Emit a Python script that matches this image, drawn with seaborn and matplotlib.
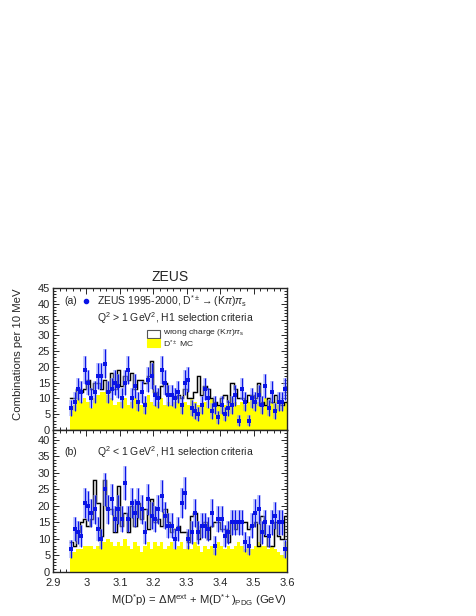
import numpy as np
import pandas as pd
import matplotlib
matplotlib.use("Agg")
import matplotlib.pyplot as plt
from matplotlib.ticker import MultipleLocator
import seaborn as sns

sns.set_style("ticks")
plt.rcParams['font.family'] = ['Liberation Sans', 'DejaVu Sans']
plt.rcParams['mathtext.fontset'] = 'custom'
plt.rcParams['mathtext.rm'] = 'Liberation Sans'
plt.rcParams['mathtext.it'] = 'Liberation Sans:italic'

# bins: 10 MeV from 2.95 to 3.60 GeV
bin_edges = [round(2.95 + 0.01 * i, 3) for i in range(66)]
bin_centers = [round(2.955 + 0.01 * i, 4) for i in range(65)]

# panel (a): Q^2 > 1 GeV^2
data_a = [7, 9, 13, 12, 19, 15, 10, 12, 17, 17, 21, 12, 13, 15, 14, 10, 15, 19, 10, 14,
          9, 12, 8, 16, 17, 11, 10, 19, 15, 11, 11, 10, 12, 8, 15, 16, 7, 6, 5, 8,
          13, 10, 6, 8, 4, 8, 5, 7, 8, 11, 3, 13, 9, 3, 10, 9, 11, 8, 14, 7,
          12, 6, 9, 9, 13]
wc_a = [10, 10, 13, 12, 13, 16, 13, 15, 15, 13, 16, 12, 18, 13, 19, 14, 17, 16, 18, 13,
        16, 16, 15, 17, 22, 12, 10, 14, 15, 11, 11, 10, 11, 10, 13, 10, 10, 12, 17, 11,
        14, 13, 10, 9, 8, 10, 11, 9, 15, 13, 10, 10, 9, 11, 11, 10, 15, 9, 8, 10,
        9, 11, 9, 8, 9]
mc_a = [7, 8, 10, 9, 10, 9, 7, 10, 11, 12, 12, 11, 10, 8, 9, 9, 10, 8, 9, 10,
        9, 8, 9, 11, 9, 8, 9, 10, 8, 9, 8, 9, 10, 8, 9, 8, 10, 9, 8, 8,
        9, 7, 10, 9, 8, 9, 8, 9, 10, 9, 8, 9, 8, 9, 10, 10, 9, 8, 10, 8,
        9, 9, 8, 9, 9]

# panel (b): Q^2 < 1 GeV^2
data_b = [7, 13, 12, 11, 21, 20, 18, 19, 13, 10, 25, 19, 22, 16, 19, 16, 27, 16, 21, 18,
          21, 19, 12, 22, 17, 16, 19, 23, 17, 14, 14, 10, 13, 21, 24, 10, 12, 18, 12, 14,
          14, 13, 18, 8, 16, 16, 11, 12, 15, 15, 15, 15, 9, 8, 14, 18, 19, 12, 15, 11,
          15, 17, 15, 15, 7]
wc_b = [9, 8, 12, 15, 16, 14, 16, 28, 21, 11, 28, 19, 19, 12, 26, 14, 18, 12, 20, 14,
        21, 16, 19, 13, 22, 15, 16, 14, 19, 15, 12, 13, 14, 12, 12, 9, 17, 18, 10, 14,
        15, 10, 14, 15, 15, 13, 13, 9, 15, 13, 15, 15, 15, 13, 14, 15, 8, 17, 11, 8,
        8, 15, 11, 10, 17]
mc_b = [6, 6, 7, 7, 8, 8, 8, 7, 8, 11, 9, 10, 9, 8, 9, 8, 10, 8, 7, 9,
        8, 6, 8, 9, 7, 9, 8, 9, 7, 8, 9, 7, 8, 9, 7, 8, 7, 9, 8, 6,
        8, 7, 8, 7, 9, 8, 7, 8, 7, 8, 9, 8, 7, 8, 7, 8, 9, 8, 8, 7,
        8, 7, 6, 5, 9]

x_ticks = [2.9, 3.0, 3.1, 3.2, 3.3, 3.4, 3.5, 3.6]
x_ticklabels = ["2.9", "3", "3.1", "3.2", "3.3", "3.4", "3.5", "3.6"]

fig = plt.figure(figsize=(4.76, 6.16), dpi=100)
L, R = 53 / 476, 287 / 476
ax_a = fig.add_axes([L, 1 - 430 / 616, R - L, 142 / 616])
ax_b = fig.add_axes([L, 1 - 572 / 616, R - L, 142 / 616], sharex=ax_a)

BLUE = "#0a14e6"


def draw_panel(ax, data, wc, mc, ymax):
    df = pd.DataFrame({"m": bin_centers, "data": data, "wc": wc, "mc": mc})
    # MC histogram (yellow filled)
    sns.histplot(data=df, x="m", weights="mc", bins=bin_edges, element="step",
                 fill=True, color="#ffff00", alpha=1.0, linewidth=0, ax=ax, zorder=1)
    # wrong-charge histogram: grey underlay + black outline
    sns.histplot(data=df, x="m", weights="wc", bins=bin_edges, element="step",
                 fill=False, color="#8a8a8a", linewidth=1.8, alpha=0.6, ax=ax, zorder=2)
    sns.histplot(data=df, x="m", weights="wc", bins=bin_edges, element="step",
                 fill=False, color="black", linewidth=0.8, ax=ax, zorder=3)
    err = np.sqrt(df["data"].values)
    # light wide error band and thin dark error bars
    ax.errorbar(df["m"], df["data"], yerr=err, fmt="none", ecolor="#8c96ff",
                elinewidth=2.6, alpha=0.6, capsize=0, zorder=4)
    ax.errorbar(df["m"], df["data"], yerr=err, fmt="none", ecolor=BLUE,
                elinewidth=0.8, capsize=0, zorder=5)
    sns.scatterplot(data=df, x="m", y="data", color=BLUE, s=8, marker="s",
                    edgecolor=BLUE, linewidth=0, ax=ax, zorder=6)
    ax.set_xlim(2.9, 3.6)
    ax.set_ylim(0, ymax)
    ax.set_xlabel("")
    ax.set_ylabel("")
    ax.xaxis.set_major_locator(MultipleLocator(0.1))
    ax.xaxis.set_minor_locator(MultipleLocator(0.02))
    ax.yaxis.set_major_locator(MultipleLocator(5))
    ax.yaxis.set_minor_locator(MultipleLocator(1))
    ax.tick_params(which="both", direction="in", top=True, right=True,
                   labelsize=8, width=0.7, pad=2)
    ax.tick_params(which="major", length=4)
    ax.tick_params(which="minor", length=2)
    for s in ax.spines.values():
        s.set_linewidth(1.0)
        s.set_visible(True)


draw_panel(ax_a, data_a, wc_a, mc_a, 45)
draw_panel(ax_b, data_b, wc_b, mc_b, 43)

ax_a.tick_params(labelbottom=False)
ax_b.set_xticks(x_ticks)
ax_b.set_xticklabels(x_ticklabels)
ax_b.tick_params(axis="x", pad=4)

# annotations panel (a)
ax_a.text(0.05, 0.905, "(a)", transform=ax_a.transAxes, fontsize=7.5, va="center")
ax_a.plot([0.143], [0.905], transform=ax_a.transAxes, marker="o", ms=3,
          color=BLUE, clip_on=False)
ax_a.text(0.186, 0.905, r"ZEUS 1995-2000, D$^{*\pm}$$\rightarrow$(K$\pi$)$\pi_{\rm s}$",
          transform=ax_a.transAxes, fontsize=7.5, va="center")
ax_a.text(0.186, 0.79, r"Q$^2$ > 1 GeV$^2$, H1 selection criteria",
          transform=ax_a.transAxes, fontsize=7.5, va="center")
ax_a.add_patch(plt.Rectangle((0.40, 0.645), 0.057, 0.058, transform=ax_a.transAxes,
                             facecolor="white", edgecolor="#555555", lw=0.8, zorder=7))
ax_a.add_patch(plt.Rectangle((0.40, 0.585), 0.057, 0.058, transform=ax_a.transAxes,
                             facecolor="#ffff00", edgecolor="#ffff00", lw=0.8, zorder=7))
ax_a.text(0.472, 0.686, r"wrong charge (K$\pi$)$\pi_{\rm s}$", transform=ax_a.transAxes,
          fontsize=6.1, va="center")
ax_a.text(0.472, 0.6, r"D$^{*\pm}$ MC", transform=ax_a.transAxes,
          fontsize=6.1, va="center")

# annotations panel (b)
ax_b.text(0.05, 0.845, "(b)", transform=ax_b.transAxes, fontsize=7.5, va="center")
ax_b.text(0.186, 0.845, r"Q$^2$ < 1 GeV$^2$, H1 selection criteria",
          transform=ax_b.transAxes, fontsize=7.5, va="center")

fig.text((L + R) / 2, 1 - 277 / 616, "ZEUS", ha="center", va="center", fontsize=10)
fig.text(18 / 476, 1 - 288 / 616, "Combinations per 10 MeV", rotation=90,
         ha="center", va="top", fontsize=8.2)
fig.text(R, 1 - 600 / 616,
         r"M(D$^{*}$p) = $\Delta$M$^{\rm ext}$ + M(D$^{*+}$)$_{\rm PDG}$ (GeV)",
         ha="right", va="center", fontsize=8.1)

fig.savefig("out.png", dpi=100)
